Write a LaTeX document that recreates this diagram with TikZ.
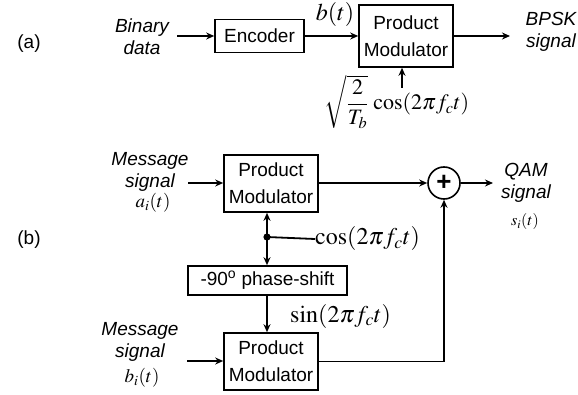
\documentclass[tikz,border=0pt]{standalone}
\usepackage{mathptmx}
\usepackage{fontspec}
\setmainfont{Liberation Sans}
\usetikzlibrary{arrows.meta}
\tikzset{
  blk/.style={draw, line width=1.6pt, inner sep=0pt, align=center, font=\fontsize{19}{27}\selectfont},
  lbl/.style={inner sep=0pt, align=center, font=\fontsize{19}{22}\selectfont\itshape},
  mlbl/.style={inner sep=0pt, font=\fontsize{19}{23}\selectfont},
  mth/.style={inner sep=0pt, font=\fontsize{24}{28}\selectfont},
  sig/.style={line width=1.8pt, -{Stealth[length=8pt,width=7pt]}},
  wire/.style={line width=1.8pt}
}
\begin{document}
\begin{tikzpicture}[x=1pt,y=-1pt]
\useasboundingbox (0,0) rectangle (578,395);
% ---- (a) BPSK transmitter ----
\node[mlbl] (la) at (29,44) {(a)};
\node[lbl] (bin) at (142,37) {Binary\\data};
\node[blk, minimum width=89pt, minimum height=33pt] (enc) at (259.5,36) {Encoder};
\node[blk, minimum width=94pt, minimum height=62pt] (pma) at (406,36) {Product\\Modulator};
\node[lbl] (bpsk) at (551,32) {BPSK\\signal};
\node[mth, anchor=south] (bt) at (335,27) {$b(t)$};
\node[mth, font=\fontsize{22}{26}\selectfont] (carA) at (397,102) {$\displaystyle\sqrt{\frac{2}{T_b}}\,\cos(2\pi f_c t)$};
\coordinate (carAtop) at (402,88);
\draw[sig] (bin.east |- enc.west) ++(8,0) coordinate (binout) -- (enc.west);
\draw[sig] (enc.east) -- (enc.east -| pma.west);
\draw[sig] (pma.east) -- (510,36) coordinate (bpskin);
\draw[sig] (carAtop) -- (carAtop |- pma.south);
% ---- (b) QAM transmitter ----
\node[mlbl] (lb) at (29,240) {(b)};
\node[lbl] (msgA) at (150,172) {Message\\signal};
\node[mlbl] (ai) at (153,203) {$a_i(t)$};
\node[blk, minimum width=94pt, minimum height=57pt] (pmb) at (271,183.5) {Product\\Modulator};
\node[draw, circle, line width=1.6pt, minimum size=32pt, inner sep=0pt, font=\fontsize{26}{26}\selectfont\bfseries] (sum) at (444,183) {+};
\node[lbl] (qam) at (526,183) {QAM\\signal};
\node[mlbl, font=\fontsize{16}{20}\selectfont] (si) at (525,222) {$s_i(t)$};
\coordinate (junc) at (267,237);
\node[mth, anchor=west] (cosb) at (315,239) {$\cos(2\pi f_c t)$};
\node[blk, minimum width=159pt, minimum height=29pt] (ps) at (267.5,280.5) {-90\textsuperscript{o} phase-shift};
\node[mth, anchor=west] (sinb) at (290,316) {$\sin(2\pi f_c t)$};
\node[lbl] (msgB) at (140,342) {Message\\signal};
\node[mlbl] (bi) at (142,378) {$b_i(t)$};
\node[blk, minimum width=94pt, minimum height=57pt] (pmc) at (271,361.5) {Product\\Modulator};
% connectors
\draw[sig] (188,183) coordinate (aiin) -- (aiin -| pmb.west);
\draw[sig] (pmb.east |- sum.west) -- (sum.west);
\draw[sig] (sum.east) -- (493,183) coordinate (qamin);
\draw[wire] (cosb.west) -- (junc);
\fill (junc) circle (3.6pt);
\draw[sig] (junc) -- (junc |- pmb.south);
\draw[sig] (junc) -- (junc |- ps.north);
\draw[sig] (ps.south -| junc) -- (junc |- pmc.north);
\draw[sig] (187,361) coordinate (biin) -- (biin -| pmc.west);
\draw[sig] (pmc.east) -- (sum.south |- pmc.east) -- (sum.south);
\end{tikzpicture}
\end{document}
